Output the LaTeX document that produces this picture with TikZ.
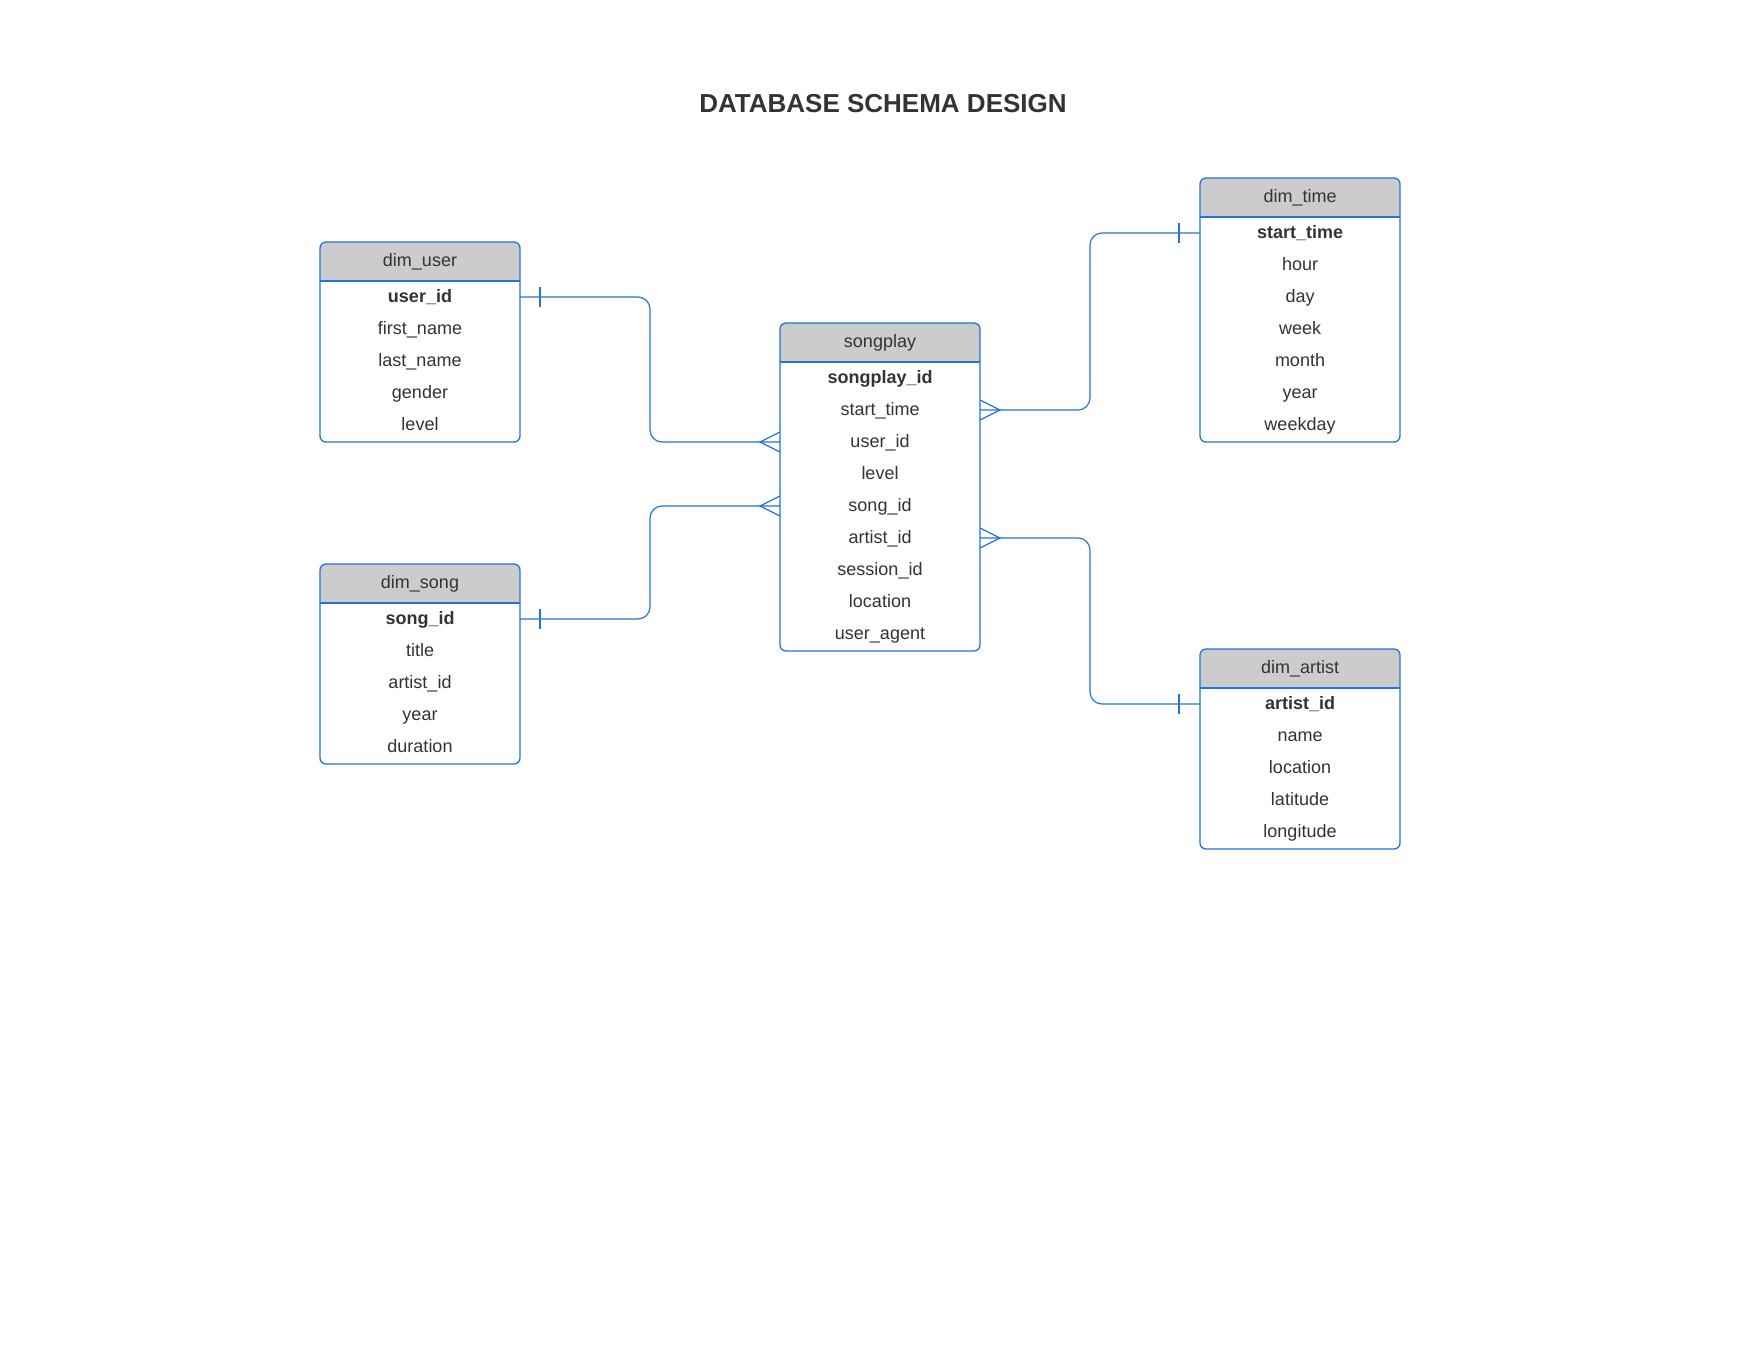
\documentclass[tikz,border=0pt]{standalone}
\usepackage{fontspec}
\setmainfont{Liberation Sans}
\usetikzlibrary{calc}
\definecolor{erblue}{RGB}{35,115,220}
\definecolor{hdrgray}{RGB}{204,204,204}
\definecolor{txtgray}{RGB}{51,51,51}
\tikzset{
  tbl/.style={rectangle, draw=erblue, line width=1.3pt, rounded corners=6pt,
    minimum width=200pt, inner sep=0pt, outer sep=0pt,
    path picture={
      \fill[hdrgray, sharp corners] (path picture bounding box.north west) rectangle ([yshift=-39pt]path picture bounding box.north east);
      \draw[erblue, line width=1.3pt, sharp corners] ([yshift=-39pt]path picture bounding box.north west) -- ([yshift=-39pt]path picture bounding box.north east);
    }},
  hdrtxt/.style={font=\fontsize{18}{21}\selectfont, text=txtgray, inner sep=0pt},
  rowtxt/.style={font=\fontsize{18}{21}\selectfont, text=txtgray, inner sep=0pt},
  conn/.style={draw=erblue, line width=1.2pt, rounded corners=12pt},
  tickln/.style={draw=erblue, line width=1.2pt},
}
\newcommand\erdtable[5]{%
  \node[tbl, minimum height=#4, anchor=north west] (#1) at #2 {};
  \node[hdrtxt, anchor=base] (#1-t) at ($(#1.north)+(0,24)$) {#3};
  \foreach \rowtext [count=\rowi] in {#5} {
    \coordinate (#1-c\rowi) at ($(#1.north)+(0,{55+32*(\rowi-1)})$);
    \node[rowtxt, anchor=base] (#1-\rowi) at ($(#1.north)+(0,{60+32*(\rowi-1)})$) {\rowtext};
  }
}
\begin{document}
\begin{tikzpicture}[x=1pt,y=-1pt]
\useasboundingbox (0,0) rectangle (1760,1360);
\fill[white] (0,0) rectangle (1760,1360);

\node[font=\fontsize{26}{31}\selectfont\bfseries, text=txtgray, anchor=base] (title) at (883,112) {DATABASE SCHEMA DESIGN};

\erdtable{user}{(320,242)}{dim\_user}{200pt}{{\textbf{user\_id}},first\_name,last\_name,gender,level}
\erdtable{song}{(320,564)}{dim\_song}{200pt}{{\textbf{song\_id}},title,artist\_id,year,duration}
\erdtable{sp}{(780,323)}{songplay}{328pt}{{\textbf{songplay\_id}},start\_time,user\_id,level,song\_id,artist\_id,session\_id,location,user\_agent}
\erdtable{time}{(1200,178)}{dim\_time}{264pt}{{\textbf{start\_time}},hour,day,week,month,year,weekday}
\erdtable{artist}{(1200,649)}{dim\_artist}{200pt}{{\textbf{artist\_id}},name,location,latitude,longitude}

% connectors
\draw[conn] (user.east |- user-c1) -- ++(130,0) |- (sp.west |- sp-c3);
\draw[conn] (song.east |- song-c1) -- ++(130,0) |- (sp.west |- sp-c5);
\draw[conn] (sp.east |- sp-c2) -- ++(110,0) |- (time.west |- time-c1);
\draw[conn] (sp.east |- sp-c6) -- ++(110,0) |- (artist.west |- artist-c1);

% one-side ticks
\draw[tickln] ($(user.east |- user-c1)+(20,-10)$) -- ++(0,20);
\draw[tickln] ($(song.east |- song-c1)+(20,-10)$) -- ++(0,20);
\draw[tickln] ($(time.west |- time-c1)+(-21,-10)$) -- ++(0,20);
\draw[tickln] ($(artist.west |- artist-c1)+(-21,-10)$) -- ++(0,20);

% crow's feet
\draw[tickln] ($(sp.west |- sp-c3)+(0,-10)$) -- ++(-20,10) -- ++(20,10);
\draw[tickln] ($(sp.west |- sp-c5)+(0,-10)$) -- ++(-20,10) -- ++(20,10);
\draw[tickln] ($(sp.east |- sp-c2)+(0,-10)$) -- ++(20,10) -- ++(-20,10);
\draw[tickln] ($(sp.east |- sp-c6)+(0,-10)$) -- ++(20,10) -- ++(-20,10);
\end{tikzpicture}
\end{document}
